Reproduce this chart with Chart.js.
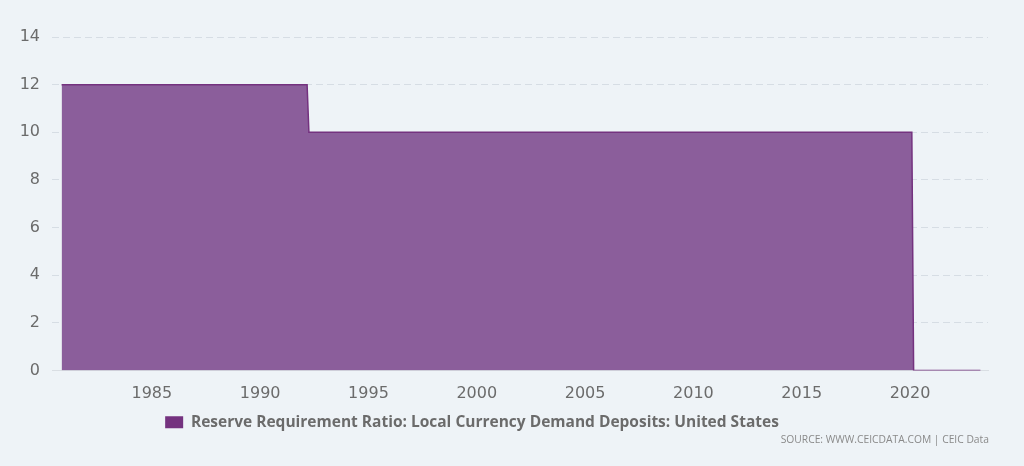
<!DOCTYPE html>
<html>
<head>
<meta charset="utf-8">
<script src="https://cdn.jsdelivr.net/npm/chart.js@4.4.1/dist/chart.umd.min.js"></script>
<style>
  html, body { margin:0; padding:0; background:#eef3f7; }
  #wrap { position:relative; width:1024px; height:466px; }
  #source { position:absolute; right:35px; top:432px; font:10.3px "Open Sans"; color:#8a8a8a; white-space:nowrap; }
</style>
</head>
<body>
<div id="wrap">
  <canvas id="chart" width="1024" height="466"></canvas>
  <div id="source">SOURCE: WWW.CEICDATA.COM | CEIC Data</div>
</div>
<script>
// monthly observations where the ratio changes (end-of-month values)
const months = ['1980-11', '1992-03', '1992-04', '2020-02', '2020-03', '2023-04'];
const ratio  = [12, 12, 10, 10, 0, 0];
const xTicks = [1985, 1990, 1995, 2000, 2005, 2010, 2015, 2020];
const yTicks = [0, 2, 4, 6, 8, 10, 12, 14];
const seriesName = 'Reserve Requirement Ratio: Local Currency Demand Deposits: United States';

const lineColor = '#74327f';
const fillColor = '#8b5e9b';
const tickColor = '#6b6b6b';

// 'YYYY-MM' -> fractional year, for the linear x scale
const toYear = m => { const [y, mo] = m.split('-').map(Number); return y + (mo - 1) / 12; };
const points = months.map((m, i) => ({ x: toYear(m), y: ratio[i] }));

// legend in the original sits a little left of the canvas centre
const legendShift = {
  id: 'legendShift',
  afterLayout(chart) {
    const lg = chart.legend;
    if (lg) { lg.left -= 22; lg.right -= 22; }
  }
};

new Chart(document.getElementById('chart'), {
  type: 'line',
  data: {
    datasets: [{
      label: seriesName,
      data: points,
      borderColor: lineColor,
      backgroundColor: fillColor,
      borderWidth: 1.5,
      pointRadius: 0,
      tension: 0,
      fill: 'origin'
    }]
  },
  plugins: [legendShift],
  options: {
    responsive: false,
    animation: false,
    layout: { padding: { top: 37, right: 36, left: 0, bottom: 26 } },
    plugins: {
      tooltip: { enabled: false },
      legend: {
        position: 'bottom',
        labels: {
          boxWidth: 18, boxHeight: 12, padding: 10,
          color: tickColor,
          font: { family: 'Open Sans', size: 15.5, weight: 'bold' },
          generateLabels(chart) {
            const items = Chart.defaults.plugins.legend.labels.generateLabels(chart);
            items.forEach(it => { it.fillStyle = lineColor; it.strokeStyle = lineColor; it.lineWidth = 0; });
            return items;
          }
        }
      }
    },
    scales: {
      x: {
        type: 'linear',
        min: 1980.39, max: 2023.6,
        afterBuildTicks: s => { s.ticks = xTicks.map(v => ({ value: v })); },
        afterFit: s => { s.height = 34; },
        grid: { display: false },
        border: { display: true, color: '#d9dee3', width: 1 },
        ticks: {
          padding: 6, color: tickColor, maxRotation: 0,
          font: { family: 'DejaVu Sans', size: 16 },
          callback: v => String(v)
        }
      },
      y: {
        min: 0, max: 14,
        afterBuildTicks: s => { s.ticks = yTicks.map(v => ({ value: v })); },
        afterFit: s => { s.width = 52; },
        grid: { color: '#d6dde4', lineWidth: 1, drawTicks: false },
        border: { display: false, dash: [7, 4] },
        ticks: {
          padding: 12, color: tickColor,
          font: { family: 'DejaVu Sans', size: 16 },
          callback: v => String(v)
        }
      }
    }
  }
});
</script>
</body>
</html>
